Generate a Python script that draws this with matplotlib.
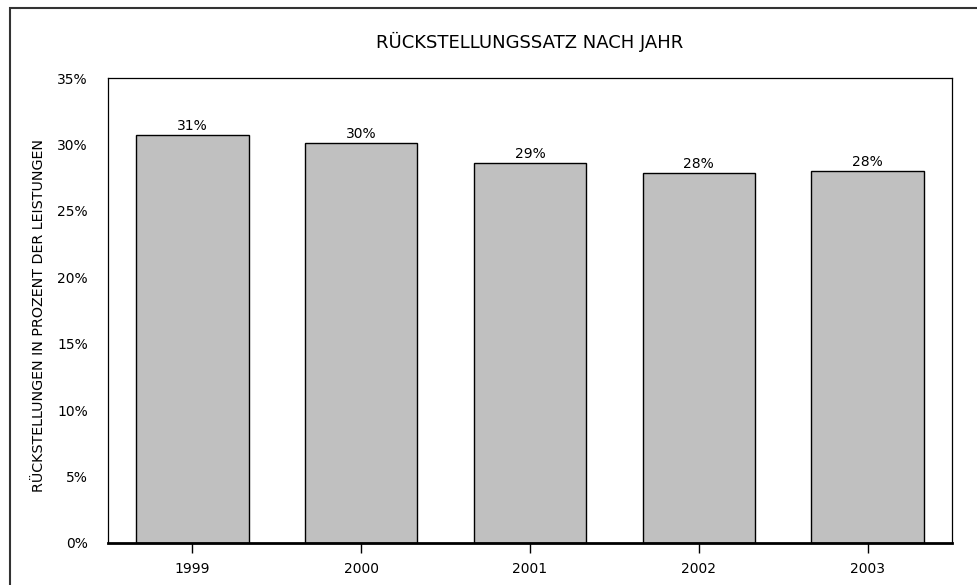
import matplotlib.pyplot as plt
from matplotlib.patches import Rectangle

jahre = ['1999', '2000', '2001', '2002', '2003']
werte = [30.7, 30.07, 28.6, 27.86, 27.97]
labels = ['31%', '30%', '29%', '28%', '28%']
yticks = [0, 5, 10, 15, 20, 25, 30, 35]

fig = plt.figure(figsize=(9.77, 5.85), dpi=100)
ax = fig.add_axes([108/977, 1 - 543/585, (952 - 108)/977, (543 - 78)/585])

x = range(len(jahre))
bars = ax.bar(x, werte, width=0.667, color='#c0c0c0', edgecolor='black', linewidth=1)
ax.bar_label(bars, labels=labels, padding=1.5, fontsize=10)

ax.set_xlim(-0.5, len(jahre) - 0.5)
ax.set_ylim(0, 35)
ax.set_xticks(list(x))
ax.set_xticklabels(jahre, fontsize=10)
ax.set_yticks(yticks)
ax.set_yticklabels([f'{v}%' for v in yticks], fontsize=10)
ax.tick_params(axis='y', length=0, pad=14.5)
ax.tick_params(axis='x', length=7.5, width=1, pad=6)

for s in ['left', 'top', 'right']:
    ax.spines[s].set_linewidth(0.9)
ax.spines['bottom'].set_linewidth(2)

fig.text(530/977, 1 - 42/585, 'RÜCKSTELLUNGSSATZ NACH JAHR', ha='center', va='center', fontsize=13)
fig.text(39/977, 1 - 316/585, 'RÜCKSTELLUNGEN IN PROZENT DER LEISTUNGEN',
         rotation=90, ha='center', va='center', fontsize=10.3)

# Rahmen um die Grafik
fig.patches.append(Rectangle((9.5/977, -0.1), 1.2, 1.1 - 8/585, transform=fig.transFigure,
                             fill=False, edgecolor='#333333', linewidth=1.5))

fig.savefig('out.png', dpi=100)
